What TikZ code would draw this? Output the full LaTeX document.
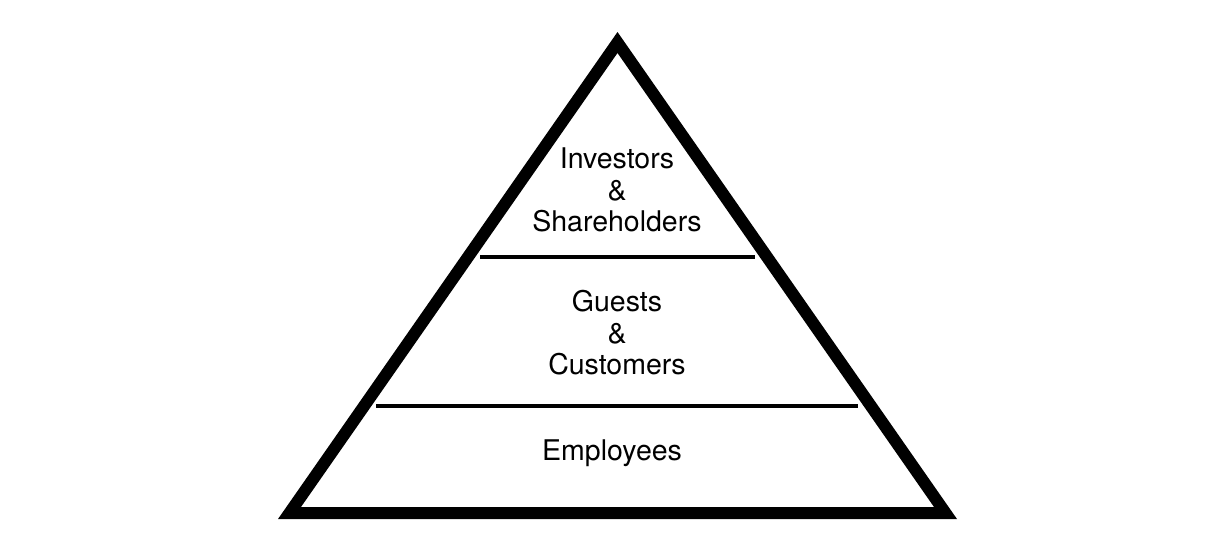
\documentclass[tikz,border=0pt]{standalone}
\usepackage{fontspec}
\setmainfont{TeX Gyre Heros}
\usetikzlibrary{positioning,calc}
\tikzset{
  pyr outline/.style={draw,line width=12pt,line join=miter},
  pyr divider/.style={draw,line width=4.5pt},
  pyr label/.style={align=center,inner sep=0pt,font=\fontsize{28.5}{31.5}\selectfont}
}

\begin{document}
\begin{tikzpicture}[x=1pt,y=-1pt]
  \useasboundingbox (0,0) rectangle (1224,544);
  \coordinate (apex) at (617.5,42.5);
  \coordinate (bl) at (289.5,513);
  \coordinate (br) at (945.5,513);
  \coordinate (d1l) at (480,257);
  \coordinate (d1r) at (755,257);
  \coordinate (d2l) at (376,406);
  \coordinate (d2r) at (858,406);
  \path[pyr outline] (apex) -- (bl) -- (br) -- cycle;
  \path[pyr divider] (d1l) -- (d1r);
  \path[pyr divider] (d2l) -- (d2r);
  \node[pyr label] (top) at (617,190) {Investors\\\&\\Shareholders};
  \node[pyr label] (mid) at (617,333) {Guests\\\&\\Customers};
  \node[pyr label] (base) at (612,453) {Employees};
\end{tikzpicture}
\end{document}
